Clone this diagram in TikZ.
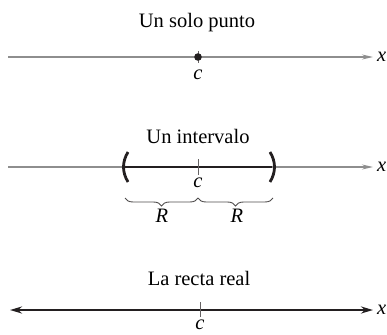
\documentclass[tikz,border=0pt]{standalone}
\usepackage{fontspec}
\setmainfont{Liberation Serif}
\usetikzlibrary{arrows.meta,decorations.pathreplacing,calc}
\definecolor{axisgray}{HTML}{8E8E8E}
\definecolor{inkdark}{HTML}{231F20}

\begin{document}
\begin{tikzpicture}[x=1pt, y=-1pt, font=\fontsize{20.5}{24}\selectfont,
    axis/.style={axisgray, line width=1.2pt, -{Stealth[length=11pt,width=5pt]}},
    realaxis/.style={inkdark, line width=2.6pt, {Stealth[length=12pt,width=7pt]}-{Stealth[length=12pt,width=7pt]}},
    tickmark/.style={inkdark!70, line width=0.9pt},
    paren/.style={inkdark, line width=2.8pt},
    underbrace/.style={inkdark!80, line width=0.9pt, decorate, decoration={brace, mirror, amplitude=8pt}},
    lbl/.style={anchor=base, inner sep=0pt}]
  \useasboundingbox (0,0) rectangle (387,334);

  % Un solo punto
  \node[lbl] (title1) at (197,28) {Un solo punto};
  \coordinate (a1) at (8,57);
  \coordinate (b1) at (373,57);
  \draw[axis] (a1) -- (b1);
  \node[anchor=west, inner sep=0pt] (x1) at (377,57) {\textit{x}};
  \coordinate (c1) at (198,57);
  \draw[tickmark] ($(c1)+(0,-6)$) -- ($(c1)+(0,6)$);
  \fill[inkdark] (c1) circle (3.8);
  \node[lbl] (clabel1) at (198,80) {\textit{c}};

  % Un intervalo
  \node[lbl] (title2) at (198,143) {Un intervalo};
  \coordinate (a2) at (8,167);
  \coordinate (b2) at (373,167);
  \draw[axis] (a2) -- (b2);
  \node[anchor=west, inner sep=0pt] (x2) at (377,167) {\textit{x}};
  \coordinate (left2) at (125,167);
  \coordinate (right2) at (272,167);
  \coordinate (c2) at (198,167);
  \draw[inkdark, line width=2.8pt] (left2) -- (right2);
  \draw[paren] (128,152) .. controls (122,162) and (122,172) .. (128,182);
  \draw[paren] (270,152) .. controls (276,162) and (276,172) .. (270,182);
  \draw[tickmark] (198,159) -- (198,175);
  \node[lbl] (clabel2) at (198,187) {\textit{c}};
  \draw[underbrace] (125,198) -- (198,198);
  \draw[underbrace] (198,198) -- (273,198);
  \node[lbl] (r1) at (162,222) {\textit{R}};
  \node[lbl] (r2) at (237,222) {\textit{R}};

  % La recta real
  \node[lbl] (title3) at (199,285) {La recta real};
  \coordinate (a3) at (10,310);
  \coordinate (b3) at (373,310);
  \draw[realaxis] (a3) -- (b3);
  \node[anchor=west, inner sep=0pt] (x3) at (377,310) {\textit{x}};
  \draw[tickmark] (200,302) -- (200,317);
  \node[lbl] (clabel3) at (200,329) {\textit{c}};
\end{tikzpicture}
\end{document}
